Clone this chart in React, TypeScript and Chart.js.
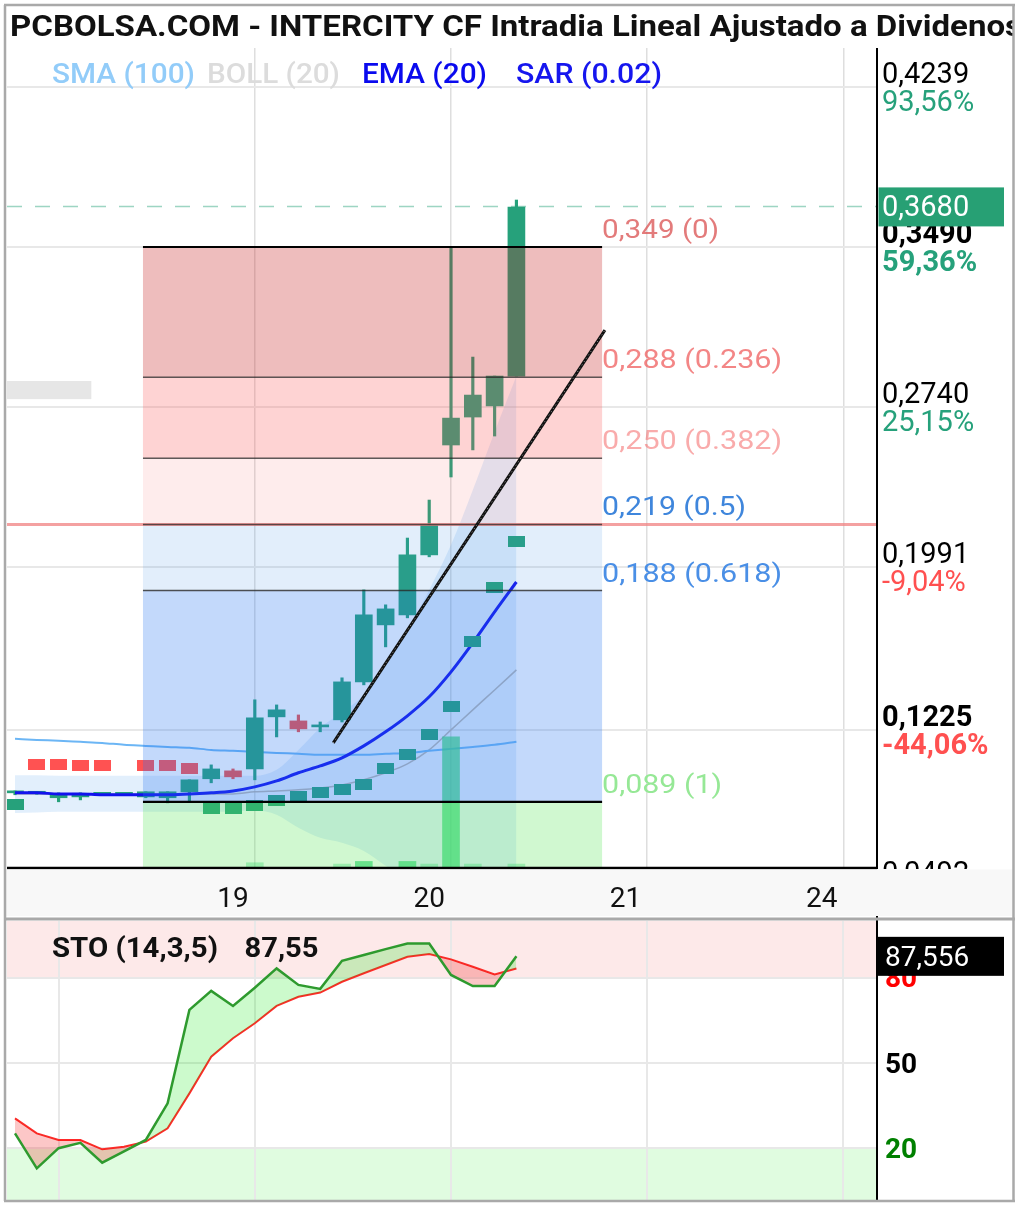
import React, { useEffect, useRef } from 'react';
import { Chart, registerables } from 'chart.js';

Chart.register(...registerables);

// ---------------- data ----------------
const TITLE = 'PCBOLSA.COM - INTERCITY CF Intradia Lineal Ajustado a Dividenos';

const bars = [0, 1, 2, 3, 4, 5, 6, 7, 8, 9, 10, 11, 12, 13, 14, 15, 16, 17, 18, 19, 20, 21, 22, 23];

const opens = [0.0932, 0.0930, 0.0909, 0.0913, 0.0925, 0.0925, 0.0913, 0.0909, 0.0937, 0.0998, 0.1035, 0.1044, 0.1288, 0.1269, 0.1241, 0.1274, 0.1452, 0.1719, 0.1766, 0.2047, 0.2562, 0.2693, 0.2745, 0.2885];
const highs = [0.0941, 0.0937, 0.0932, 0.0932, 0.0930, 0.0930, 0.0937, 0.0937, 0.0993, 0.1063, 0.1044, 0.1368, 0.1344, 0.1297, 0.1264, 0.1471, 0.1883, 0.1813, 0.2126, 0.2304, 0.3485, 0.2974, 0.2885, 0.3710];
const lows = [0.0923, 0.0925, 0.0890, 0.0899, 0.0920, 0.0920, 0.0909, 0.0885, 0.0890, 0.0979, 0.0998, 0.0993, 0.1194, 0.1218, 0.1218, 0.1264, 0.1438, 0.1616, 0.1752, 0.2038, 0.2412, 0.2539, 0.2604, 0.2885];
const closes = [0.0934, 0.0932, 0.0927, 0.0930, 0.0927, 0.0927, 0.0937, 0.0937, 0.0993, 0.1044, 0.1007, 0.1283, 0.1321, 0.1232, 0.1250, 0.1452, 0.1766, 0.1794, 0.2047, 0.2187, 0.2688, 0.2796, 0.2885, 0.3677];

const volumes = [null, null, null, null, null, null, null, null, null, null, null, 4, null, null, null, 3, 5, null, 5, 3, 100, 3, null, 3];

const ema20 = [0.0932, 0.0932, 0.0927, 0.0927, 0.0923, 0.0923, 0.0923, 0.0923, 0.0927, 0.0932, 0.0941, 0.0960, 0.0988, 0.1026, 0.1058, 0.1096, 0.1152, 0.1218, 0.1293, 0.1382, 0.1499, 0.1635, 0.1780, 0.1920];
const sma100 = [0.1185, 0.1180, 0.1176, 0.1171, 0.1166, 0.1157, 0.1152, 0.1147, 0.1143, 0.1133, 0.1129, 0.1124, 0.1119, 0.1115, 0.1110, 0.1110, 0.1110, 0.1115, 0.1119, 0.1129, 0.1138, 0.1147, 0.1157, 0.1171];
const bollUpper = [0.1014, 0.1014, 0.1012, 0.1012, 0.1012, 0.1012, 0.1012, 0.1012, 0.1012, 0.1012, 0.1012, 0.1012, 0.1040, 0.1133, 0.1236, 0.1311, 0.1391, 0.1532, 0.1695, 0.1883, 0.2094, 0.2351, 0.2623, 0.2885];
const bollMid = [0.0927, 0.0927, 0.0927, 0.0927, 0.0927, 0.0927, 0.0927, 0.0927, 0.0927, 0.0927, 0.0927, 0.0937, 0.0941, 0.0946, 0.0955, 0.0969, 0.0993, 0.1026, 0.1068, 0.1133, 0.1227, 0.1321, 0.1414, 0.1508];
const bollLower = [0.0838, 0.0840, 0.0843, 0.0843, 0.0843, 0.0843, 0.0843, 0.0843, 0.0843, 0.0843, 0.0845, 0.0850, 0.0829, 0.0768, 0.0721, 0.0698, 0.0660, 0.0590, 0.0524, 0.0431, 0.0314, 0.0197, 0.0080, -0.0038];

const sarAbove = [null, 0.1067, 0.1067, 0.1058, 0.1058, null, 0.1058, 0.1058, 0.1044, null, null, null, null, null, null, null, null, null, null, null, null, null, null, null];
const sarBelow = [0.0876, null, null, null, null, null, null, null, null, 0.0857, 0.0857, 0.0871, 0.0895, 0.0913, 0.0932, 0.0946, 0.0969, 0.1044, 0.1110, 0.1204, 0.1335, 0.1639, 0.1892, 0.2112];

const stoK = [25.2, 12.9, 20.0, 21.9, 14.9, 18.9, 22.9, 35.8, 68.7, 75.4, 70.1, 76.5, 83.3, 77.5, 76.1, 86.0, 88.0, 90.1, 92.1, 92.1, 81.0, 77.1, 77.1, 87.6];
const stoD = [30.5, 25.2, 22.9, 22.9, 19.6, 20.5, 22.3, 27.0, 39.3, 52.2, 58.7, 64.0, 70.1, 73.3, 74.8, 78.6, 81.6, 84.5, 87.4, 88.4, 86.5, 83.9, 81.2, 83.3];
const stoLast = 87.556;
const stoTitle = 'STO (14,3,5)';
const stoTitleValue = '87,55';
const stoLevels = [80, 50, 20];

const priceTicks = [0.4239, 0.3490, 0.2740, 0.1991, 0.1225, 0.0492];
const priceTickLabels = ['0,4239', '0,3490', '0,2740', '0,1991', '0,1225', '0,0492'];
const pctLabels = ['93,56%', '59,36%', '25,15%', '-9,04%', '-44,06%', ''];
const boldTicks = [0.3490, 0.1225];

const dayGridBars = [11, 20, 29, 38];
const dayLabelBars = [10, 19, 28, 37];
const dayLabels = ['19', '20', '21', '24'];
const stoGridBars = [2, 11, 20, 29, 38];

const fibLevels = [0.349, 0.288, 0.250, 0.219, 0.188, 0.089];
const fibRatios = ['0', '0.236', '0.382', '0.5', '0.618', '1'];
const fibRange = [5.87, 26.93];

const trendX = [14.6, 27.06];
const trendY = [0.1166, 0.3100];

const lastPrice = 0.368;
const refPrice = 0.219;

const legendItems = ['SMA (100)', 'BOLL (20)', 'EMA (20)', 'SAR (0.02)'];

// ---------------- styles ----------------
const GREEN = '#26a17b';
const RED = '#ef5350';
const X_MIN = -0.367;
const X_MAX = 39.54;
const Y_MIN = 0.05798;
const Y_MAX = 0.44223;

const fibZoneColors = [
  'rgba(200,35,35,0.30)',
  'rgba(250,80,80,0.25)',
  'rgba(250,80,80,0.11)',
  'rgba(60,140,230,0.15)',
  'rgba(40,120,240,0.28)',
  'rgba(80,230,80,0.27)',
];
const fibLineStyles = [
  { c: '#000', w: 2 },
  { c: 'rgba(40,40,40,0.75)', w: 1.5 },
  { c: 'rgba(40,40,40,0.75)', w: 1.5 },
  { c: 'rgba(40,40,40,0.75)', w: 1.5 },
  { c: 'rgba(40,40,40,0.8)', w: 1.5 },
  { c: '#000', w: 2.2 },
];
const fibLabelColors = [
  'rgba(220,90,90,0.8)',
  'rgba(240,100,100,0.78)',
  'rgba(245,120,120,0.62)',
  '#3f86dc',
  '#4a8fe6',
  '#96e896',
];
const fibLabelWidths = [117, 180, 180, 144, 180, 120];
const legendX = [52, 207, 362, 516];
const legendW = [143, 133, 125, 146];
const legendColors = ['#92ccf9', '#dcdcdc', '#0a0aee', '#1616ee'];
const stoLevelColors = ['#ff0000', '#000000', '#008000'];

type Ctx = CanvasRenderingContext2D;

function drawLabel(ctx: Ctx, s: string, x: number, y: number, font: string, color: string, width?: number, align: 'left' | 'center' = 'left') {
  ctx.save();
  ctx.font = font;
  ctx.fillStyle = color;
  ctx.textBaseline = 'middle';
  ctx.textAlign = 'left';
  const natural = ctx.measureText(s).width;
  const w = width ?? natural;
  const sx = natural > 0 ? w / natural : 1;
  const x0 = align === 'center' ? x - w / 2 : x;
  ctx.translate(x0, y + 2.5);
  ctx.scale(sx, 1);
  ctx.fillText(s, 0, 0);
  ctx.restore();
}

function rectImage(color: string) {
  const cv = document.createElement('canvas');
  cv.width = 17;
  cv.height = 11;
  const g = cv.getContext('2d')!;
  g.fillStyle = color;
  g.fillRect(0, 0, 17, 11);
  return cv;
}

const xy = (arr: (number | null)[]) => arr.map((v, i) => ({ x: bars[i], y: v }));

function drawBorders(ctx: Ctx, top: number | null, bottom: number | null, h: number) {
  ctx.save();
  ctx.strokeStyle = '#a9a9a9';
  ctx.lineWidth = 2.5;
  ctx.beginPath();
  ctx.moveTo(5, top ?? 0);
  ctx.lineTo(5, bottom ?? h);
  ctx.moveTo(1013.5, top ?? 0);
  ctx.lineTo(1013.5, bottom ?? h);
  if (top !== null) {
    ctx.moveTo(4, top);
    ctx.lineTo(1015, top);
  }
  if (bottom !== null) {
    ctx.moveTo(4, bottom);
    ctx.lineTo(1015, bottom);
  }
  ctx.stroke();
  ctx.restore();
}

const mainPlugin = {
  id: 'mainDecor',
  beforeDraw(chart: any) {
    const { ctx, width, height } = chart;
    ctx.save();
    ctx.fillStyle = '#ffffff';
    ctx.fillRect(0, 0, width, height);
    ctx.restore();
  },
  afterDatasetsDraw(chart: any) {
    const { ctx, chartArea: ca, scales } = chart;
    const x = scales.x;
    const y = scales.y;
    ctx.save();
    ctx.beginPath();
    ctx.rect(ca.left, ca.top, ca.right - ca.left, ca.bottom - ca.top);
    ctx.clip();

    const fx0 = x.getPixelForValue(fibRange[0]);
    const fx1 = x.getPixelForValue(fibRange[1]);
    for (let i = 0; i < fibLevels.length; i++) {
      const t = y.getPixelForValue(fibLevels[i]);
      const b = i + 1 < fibLevels.length ? y.getPixelForValue(fibLevels[i + 1]) : ca.bottom;
      ctx.fillStyle = fibZoneColors[i];
      ctx.fillRect(fx0, t, fx1 - fx0, b - t);
    }

    // faint label box on the left
    ctx.fillStyle = '#e6e6e6';
    const gb0 = y.getPixelForValue(0.2862);
    const gb1 = y.getPixelForValue(0.2777);
    ctx.fillRect(ca.left, gb0, x.getPixelForValue(3.5) - ca.left, gb1 - gb0);

    // reference price line
    const ry = y.getPixelForValue(refPrice);
    ctx.strokeStyle = 'rgba(240,130,130,0.75)';
    ctx.lineWidth = 3;
    ctx.beginPath();
    ctx.moveTo(ca.left, ry);
    ctx.lineTo(ca.right, ry);
    ctx.stroke();

    // last price dashed line
    const ly = y.getPixelForValue(lastPrice);
    ctx.strokeStyle = 'rgba(38,161,123,0.45)';
    ctx.lineWidth = 1.5;
    ctx.setLineDash([15, 13]);
    ctx.beginPath();
    ctx.moveTo(ca.left, ly);
    ctx.lineTo(ca.right, ly);
    ctx.stroke();
    ctx.setLineDash([]);

    // fib lines
    fibLevels.forEach((lv, i) => {
      const py = y.getPixelForValue(lv);
      ctx.strokeStyle = fibLineStyles[i].c;
      ctx.lineWidth = fibLineStyles[i].w;
      ctx.beginPath();
      ctx.moveTo(fx0, py);
      ctx.lineTo(fx1, py);
      ctx.stroke();
    });

    // trend line
    const tx0 = x.getPixelForValue(trendX[0]);
    const ty0 = y.getPixelForValue(trendY[0]);
    const tx1 = x.getPixelForValue(trendX[1]);
    const ty1 = y.getPixelForValue(trendY[1]);
    ctx.strokeStyle = '#111';
    ctx.lineWidth = 3;
    ctx.beginPath();
    ctx.moveTo(tx0, ty0);
    ctx.lineTo(tx1, ty1);
    ctx.stroke();
    ctx.strokeStyle = 'rgba(255,255,255,0.55)';
    ctx.lineWidth = 1;
    ctx.setLineDash([1, 3]);
    ctx.beginPath();
    ctx.moveTo(tx0, ty0);
    ctx.lineTo(tx1, ty1);
    ctx.stroke();
    ctx.setLineDash([]);
    ctx.restore();

    // fib labels
    fibLevels.forEach((lv, i) => {
      const py = y.getPixelForValue(lv);
      const s = lv.toFixed(3).replace('.', ',') + ' (' + fibRatios[i] + ')';
      drawLabel(ctx, s, fx1, py - 18, '26px Roboto', fibLabelColors[i], fibLabelWidths[i]);
    });
  },
  afterDraw(chart: any) {
    const { ctx, chartArea: ca, scales } = chart;
    const x = scales.x;
    const y = scales.y;

    // axis lines
    ctx.save();
    ctx.strokeStyle = '#000';
    ctx.lineWidth = 2;
    ctx.beginPath();
    ctx.moveTo(ca.right, ca.top);
    ctx.lineTo(ca.right, ca.bottom + 1);
    ctx.stroke();
    ctx.lineWidth = 2.5;
    ctx.beginPath();
    ctx.moveTo(ca.left, ca.bottom);
    ctx.lineTo(ca.right, ca.bottom);
    ctx.stroke();
    ctx.restore();

    // price labels on the right
    ctx.save();
    ctx.beginPath();
    ctx.rect(ca.right + 1.5, 0, chart.width - ca.right, ca.bottom + 1);
    ctx.clip();
    priceTicks.forEach((v, i) => {
      const py = y.getPixelForValue(v);
      const bold = boldTicks.includes(v);
      const f = (bold ? 'bold ' : '') + '29px Roboto';
      drawLabel(ctx, priceTickLabels[i], ca.right + 5, py - 14, f, '#000');
      if (pctLabels[i]) {
        const c = pctLabels[i].startsWith('-') ? '#ff5050' : GREEN;
        drawLabel(ctx, pctLabels[i], ca.right + 5, py + 14, f, c);
      }
    });
    // last price box
    const ly = y.getPixelForValue(lastPrice);
    ctx.fillStyle = '#27a074';
    ctx.fillRect(ca.right - 2, ly - 19, 129, 39);
    drawLabel(ctx, lastPrice.toFixed(4).replace('.', ','), ca.right + 5, ly, '29px Roboto', '#ffffff');
    ctx.restore();

    // x axis band
    ctx.save();
    ctx.fillStyle = '#f8f8f8';
    ctx.fillRect(6, ca.bottom + 1.5, 1008, chart.height - ca.bottom - 1.5);
    ctx.restore();
    dayLabelBars.forEach((b, i) => {
      drawLabel(ctx, dayLabels[i], x.getPixelForValue(b), ca.bottom + 29, '28px Roboto', '#111', undefined, 'center');
    });

    // legend
    legendItems.forEach((s, i) => {
      drawLabel(ctx, s, legendX[i], 73, '500 28px Roboto', legendColors[i], legendW[i]);
    });

    // title
    ctx.save();
    ctx.beginPath();
    ctx.rect(0, 0, 1013, ca.top - 2);
    ctx.clip();
    drawLabel(ctx, TITLE, 10, 26, 'bold 29px Roboto', '#111', 1012);
    ctx.restore();

    drawBorders(ctx, 5, null, chart.height);
  },
};

const stoPlugin = {
  id: 'stoDecor',
  beforeDraw(chart: any) {
    const { ctx, chartArea: ca, scales, width, height } = chart;
    const y = scales.y;
    ctx.save();
    ctx.fillStyle = '#ffffff';
    ctx.fillRect(0, 0, width, height);
    ctx.fillStyle = '#fde9e9';
    const y80 = y.getPixelForValue(80);
    ctx.fillRect(ca.left, ca.top, ca.right - ca.left, y80 - ca.top);
    ctx.fillStyle = '#e0fce0';
    const y20 = y.getPixelForValue(20);
    ctx.fillRect(ca.left, y20, ca.right - ca.left, ca.bottom - y20);
    ctx.restore();
  },
  afterDraw(chart: any) {
    const { ctx, chartArea: ca, scales, height } = chart;
    const y = scales.y;
    ctx.save();
    ctx.strokeStyle = '#000';
    ctx.lineWidth = 2;
    ctx.beginPath();
    ctx.moveTo(ca.right, 0);
    ctx.lineTo(ca.right, ca.bottom);
    ctx.stroke();
    ctx.restore();

    stoLevels.forEach((v, i) => {
      drawLabel(ctx, String(v), ca.right + 8, y.getPixelForValue(v), 'bold 28px Roboto', stoLevelColors[i]);
    });
    const by = y.getPixelForValue(stoLast);
    ctx.save();
    ctx.fillStyle = '#000';
    ctx.fillRect(ca.right, by - 19.5, 127, 39);
    ctx.restore();
    drawLabel(ctx, stoLast.toFixed(3).replace('.', ','), ca.right + 8, by, '28px Roboto', '#ffffff');

    drawLabel(ctx, stoTitle, 52, 31, 'bold 28px Roboto', '#111', 166);
    drawLabel(ctx, stoTitleValue, 244.5, 31, 'bold 28px Roboto', '#111', 74);

    // separator + borders
    ctx.save();
    ctx.fillStyle = '#ffffff';
    ctx.fillRect(0, 286, 1020, height - 286);
    ctx.strokeStyle = '#a9a9a9';
    ctx.lineWidth = 3;
    ctx.beginPath();
    ctx.moveTo(4, 3);
    ctx.lineTo(1015, 3);
    ctx.stroke();
    ctx.restore();
    drawBorders(ctx, null, 285, height);
  },
};

function mainConfig(): any {
  const candleColors = bars.map((i) => (closes[i] >= opens[i] ? GREEN : RED));
  const volColors = volumes.map((v) => (v !== null && v >= 5 ? 'rgba(60,215,125,0.72)' : 'rgba(60,215,125,0.38)'));
  return {
    type: 'line',
    data: {
      datasets: [
        { type: 'line', label: 'BOLL up', data: xy(bollUpper), borderWidth: 0, pointRadius: 0, fill: '+1', backgroundColor: 'rgba(110,175,240,0.2)', cubicInterpolationMode: 'monotone', order: 20 },
        { type: 'line', label: 'BOLL low', data: xy(bollLower), borderWidth: 0, pointRadius: 0, fill: false, cubicInterpolationMode: 'monotone', order: 19 },
        { type: 'line', label: 'BOLL mid', data: xy(bollMid), borderColor: 'rgba(175,175,175,0.9)', borderWidth: 1.5, pointRadius: 0, fill: false, cubicInterpolationMode: 'monotone', order: 18 },
        { type: 'line', label: 'SMA (100)', data: xy(sma100), borderColor: '#6cb6f5', borderWidth: 2, pointRadius: 0, fill: false, cubicInterpolationMode: 'monotone', order: 17 },
        { type: 'bar', label: 'Vol', yAxisID: 'yv', data: xy(volumes), backgroundColor: volColors, barThickness: 17, grouped: false, order: 16 },
        { type: 'bar', label: 'Wick', data: bars.map((i) => ({ x: i, y: [lows[i], highs[i]] })), backgroundColor: candleColors, barThickness: 2.5, grouped: false, order: 15 },
        { type: 'bar', label: 'Body', data: bars.map((i) => ({ x: i, y: [opens[i], closes[i]] })), backgroundColor: candleColors, barThickness: 17, minBarLength: 2, grouped: false, order: 14 },
        { type: 'line', label: 'EMA (20)', data: xy(ema20), borderColor: '#1212ee', borderWidth: 3, pointRadius: 0, fill: false, cubicInterpolationMode: 'monotone', order: 13 },
        { type: 'line', label: 'SAR up', data: xy(sarAbove), showLine: false, pointStyle: rectImage('#ff5252'), pointRadius: 5, order: 12 },
        { type: 'line', label: 'SAR down', data: xy(sarBelow), showLine: false, pointStyle: rectImage(GREEN), pointRadius: 5, order: 11 },
      ],
    },
    options: {
      responsive: false,
      animation: false,
      events: [],
      layout: { padding: { left: 7, right: 143, top: 48, bottom: 48 } },
      plugins: { legend: { display: false }, tooltip: { enabled: false } },
      scales: {
        x: {
          type: 'linear', min: X_MIN, max: X_MAX, offset: false,
          ticks: { display: false },
          grid: { color: '#dedede', lineWidth: 1.5, drawTicks: false, offset: false },
          border: { display: false },
          afterBuildTicks: (ax: any) => { ax.ticks = dayGridBars.map((v) => ({ value: v })); },
        },
        y: {
          type: 'linear', position: 'right', min: Y_MIN, max: Y_MAX, offset: false,
          ticks: { display: false },
          grid: { color: '#e8e8e8', lineWidth: 2, drawTicks: false, offset: false },
          border: { display: false },
          afterBuildTicks: (ax: any) => { ax.ticks = priceTicks.filter((v) => v >= Y_MIN && v <= Y_MAX).map((v) => ({ value: v })); },
        },
        yv: { type: 'linear', display: false, min: 0, max: 625, offset: false },
      },
    },
    plugins: [mainPlugin],
  };
}

function stoConfig(): any {
  return {
    type: 'line',
    data: {
      datasets: [
        { label: '%K', data: xy(stoK), borderColor: '#2e9a2e', borderWidth: 2.5, pointRadius: 0, fill: { target: 1, above: 'rgba(0,230,0,0.2)', below: 'rgba(240,0,0,0.22)' } },
        { label: '%D', data: xy(stoD), borderColor: '#ff2a2a', borderWidth: 2, pointRadius: 0, fill: false },
      ],
    },
    options: {
      responsive: false,
      animation: false,
      events: [],
      layout: { padding: { left: 7, right: 143, top: 5, bottom: 0 } },
      plugins: { legend: { display: false }, tooltip: { enabled: false } },
      scales: {
        x: {
          type: 'linear', min: X_MIN, max: X_MAX, offset: false,
          ticks: { display: false },
          grid: { color: '#e8e8e8', lineWidth: 2, drawTicks: false },
          border: { display: false },
          afterBuildTicks: (ax: any) => { ax.ticks = stoGridBars.map((v) => ({ value: v })); },
        },
        y: {
          type: 'linear', position: 'right', min: 0, max: 100,
          ticks: { display: false },
          grid: { color: '#e8e8e8', lineWidth: 2, drawTicks: false },
          border: { display: false },
          afterBuildTicks: (ax: any) => { ax.ticks = stoLevels.map((v) => ({ value: v })); },
        },
      },
    },
    plugins: [stoPlugin],
  };
}

export default function App() {
  const mainRef = useRef<HTMLCanvasElement>(null);
  const stoRef = useRef<HTMLCanvasElement>(null);

  useEffect(() => {
    const main = new Chart(mainRef.current as HTMLCanvasElement, mainConfig());
    const sto = new Chart(stoRef.current as HTMLCanvasElement, stoConfig());
    return () => {
      main.destroy();
      sto.destroy();
    };
  }, []);

  return (
    <div style={{ position: 'absolute', left: 0, top: 0, width: 1020, height: 1205, background: '#fff', overflow: 'hidden' }}>
      <canvas ref={mainRef} width={1020} height={916} style={{ position: 'absolute', left: 0, top: 0, width: 1020, height: 916 }} />
      <canvas ref={stoRef} width={1020} height={289} style={{ position: 'absolute', left: 0, top: 916, width: 1020, height: 289 }} />
    </div>
  );
}
